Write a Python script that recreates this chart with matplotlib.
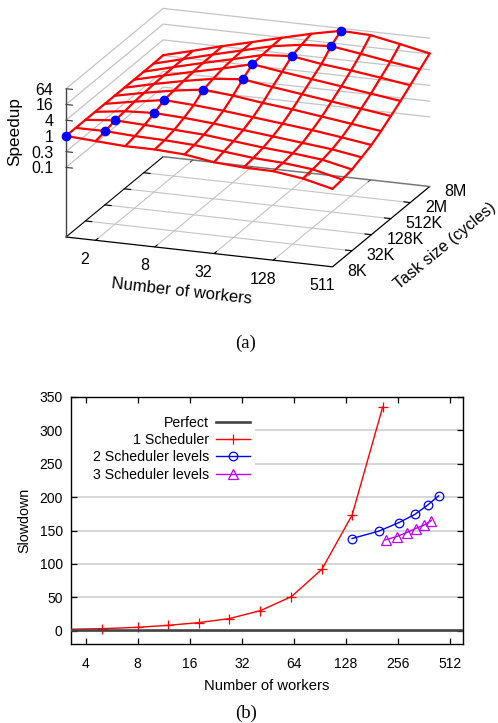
import numpy as np
import matplotlib
matplotlib.use('Agg')
import matplotlib.pyplot as plt
from matplotlib.patches import Rectangle
from mpl_toolkits.mplot3d import proj3d

plt.rcParams['font.family'] = ['Liberation Sans', 'DejaVu Sans']

W, H = 498, 723

# (a) surface: log2 of speedup, one row per task size, one column per worker count
workers_log2 = [0, 1, 2, 3, 4, 5, 6, 7, 8, 9]
tasks_log2 = [13, 14, 15, 16, 17, 18, 19, 20, 21, 22, 23]
speedup_log2 = [
    [0.00, -0.24, -0.46, -0.46, -0.67, -1.24, -1.49, -1.54, -2.05, -2.94],
    [0.00, 0.01, -0.20, -0.30, -0.50, -0.90, -1.30, -1.50, -1.90, -2.78],
    [0.00, 0.36, 0.20, 0.00, -0.20, -0.60, -1.00, -1.30, -1.70, -2.52],
    [0.00, 0.50, 0.69, 0.50, 0.20, -0.20, -0.60, -1.00, -1.40, -2.00],
    [0.00, 0.70, 1.32, 1.10, 0.80, 0.40, 0.00, -0.40, -0.90, -1.45],
    [0.00, 0.80, 1.50, 2.05, 1.70, 1.20, 0.80, 0.30, -0.20, -0.70],
    [0.00, 0.90, 1.70, 2.40, 2.76, 2.20, 1.70, 1.20, 0.70, 0.19],
    [0.00, 0.95, 1.85, 2.70, 3.66, 3.10, 2.60, 2.10, 1.60, 1.08],
    [0.00, 1.00, 1.95, 2.85, 3.80, 4.08, 3.50, 3.10, 2.60, 2.06],
    [0.00, 1.00, 2.00, 2.95, 3.90, 4.50, 4.75, 4.20, 3.60, 3.07],
    [0.06, 1.03, 2.05, 2.98, 3.95, 4.88, 5.68, 5.55, 4.83, 4.06],
]
x_ticks_a = [1, 3, 5, 7, 9]
x_labels_a = ['2', '8', '32', '128', '511']
y_ticks_a = [13, 15, 17, 19, 21, 23]
y_labels_a = ['8K', '32K', '128K', '512K', '2M', '8M']
z_ticks_a = [6, 4, 2, 0, -2, -4]
z_labels_a = ['64', '16', '4', '1', '0.3', '0.1']

# (b) slowdown curves
perfect_x = [3.29, 609]
perfect_y = [1, 1]
sched1_x = [3, 5, 8, 12, 18, 27, 41, 62, 93, 139, 209]
sched1_y = [2, 3, 5, 8, 12, 18, 30, 51, 92, 173, 335]
sched2_x = [139, 198, 260, 320, 380, 440]
sched2_y = [138, 149, 162, 174, 188, 202]
sched3_x = [217, 252, 288, 324, 362, 399]
sched3_y = [136, 141, 147, 153, 158, 165]
x_ticks_b = [4, 8, 16, 32, 64, 128, 256, 512]
y_ticks_b = [0, 50, 100, 150, 200, 250, 300, 350]

fig = plt.figure(figsize=(W / 100, H / 100), dpi=100)


def fx(x):
    return x / W


def fy(y):
    return 1 - y / H


ax3 = fig.add_axes([0.0, 1 - W / H, 1.0, W / H], projection='3d', proj_type='ortho')
ax3.computed_zorder = False
ax3.set_axis_off()
ax3.patch.set_visible(False)
ax3.view_init(elev=17.7, azim=-69.8)
xmin, xmax = 0, 9
ymin, ymax = 13, 23
zmin, zmax = -12.85, 6
ax3.set_xlim(xmin, xmax, view_margin=0)
ax3.set_ylim(ymin, ymax, view_margin=0)
ax3.set_zlim(zmin, zmax, view_margin=0)
aspect = (283.5, 281, 155.4)


def to_px(x, y, z):
    px, py, _ = proj3d.proj_transform(x, y, z, ax3.get_proj())
    dx, dy = ax3.transData.transform((px, py))
    return dx, H - dy


# fit the box so its corners land where the reference has them
zoom = 1.0
ax3.set_box_aspect(aspect, zoom=zoom)
for i in range(3):
    fig.canvas.draw()
    a = to_px(xmin, ymin, zmin)
    b = to_px(xmax, ymin, zmin)
    zoom *= (332.5 - 66.0) / (b[0] - a[0])
    ax3.set_box_aspect(aspect, zoom=zoom)
fig.canvas.draw()
a = to_px(xmin, ymin, zmin)
pos = ax3.get_position()
ax3.set_position([pos.x0 + (66.0 - a[0]) / W, pos.y0 - (237.0 - a[1]) / H, pos.width, pos.height])
fig.canvas.draw()


def line3(xs, ys, zs, color, lw, z=1):
    ax3.plot(xs, ys, zs, color=color, lw=lw, zorder=z, clip_on=False, solid_capstyle='round')


grid_c = '#c4c4c4'
# base grid
for t in x_ticks_a[:-1]:
    line3([t, t], [ymin, ymax], [zmin, zmin], grid_c, 0.8)
for t in y_ticks_a[1:-1]:
    line3([xmin, xmax], [t, t], [zmin, zmin], grid_c, 0.8)
# back walls
for t in z_ticks_a:
    line3([xmin, xmin, xmax], [ymin, ymax, ymax], [t, t, t], grid_c, 0.9)
# box edges
line3([xmin, xmax, xmax], [ymin, ymin, ymax], [zmin, zmin, zmin], 'black', 0.9, 2)
line3([xmin, xmin], [ymin, ymax], [zmin, zmin], 'black', 0.8, 2)
line3([xmin, xmax], [ymax, ymax], [zmin, zmin], '#777777', 1.1, 2)
line3([xmin, xmin], [ymin, ymin], [zmin, zmax], '#444444', 1.0, 2)
# ticks
tick_x = 0.22
for t in x_ticks_a[:-1]:
    line3([t, t], [ymin, ymin + 0.25], [zmin, zmin], 'black', 0.8, 2)
    line3([t, t], [ymax, ymax - 0.25], [zmin, zmin], '#555555', 0.8, 2)
for t in y_ticks_a[1:-1]:
    line3([xmin, xmin + tick_x], [t, t], [zmin, zmin], 'black', 0.8, 2)
    line3([xmax, xmax - tick_x], [t, t], [zmin, zmin], 'black', 0.8, 2)
for t in z_ticks_a:
    line3([xmin, xmin + tick_x], [ymin, ymin], [t, t], '#444444', 0.9, 2)

# surface
zz = np.array(speedup_log2)
for i, t in enumerate(tasks_log2):
    line3(workers_log2, [t] * len(workers_log2), zz[i, :], '#ff0000', 1.6, 3)
for j, w in enumerate(workers_log2):
    line3([w] * len(tasks_log2), tasks_log2, zz[:, j], '#ff0000', 1.6, 3)

# best worker count for every task size
best = np.argmax(zz, axis=1)
ax3.plot([workers_log2[b] for b in best], tasks_log2, zz[np.arange(len(tasks_log2)), best],
         ls='none', marker='o', ms=6, color='#0000ff', mec='#0000ff', zorder=4, clip_on=False)

fs_a = 11.5
for t, s in zip(x_ticks_a, x_labels_a):
    px, py = to_px(t, ymin, zmin)
    fig.text(fx(px - 10.5), fy(py + 19), s, ha='center', va='center', fontsize=fs_a)
for t, s in zip(y_ticks_a, y_labels_a):
    px, py = to_px(xmax, t, zmin)
    fig.text(fx(px + 15), fy(py + 5), s, ha='left', va='center', fontsize=fs_a)
for t, s in zip(z_ticks_a, z_labels_a):
    px, py = to_px(xmin, ymin, t)
    fig.text(fx(px - 12.5), fy(py + 1.5), s, ha='right', va='center', fontsize=fs_a)
fig.text(fx(182), fy(291), 'Number of workers', ha='center', va='center', rotation=-6.4,
         rotation_mode='anchor', fontsize=12)
fig.text(fx(445), fy(246), 'Task size (cycles)', ha='center', va='center', rotation=39.5,
         rotation_mode='anchor', fontsize=11.6)
fig.text(fx(15), fy(132), 'Speedup', ha='center', va='center', rotation=90, fontsize=12.3)
fig.text(fx(246), fy(343), '(a)', ha='center', va='center', family='Liberation Serif', fontsize=13.5)

# (b)
ax = fig.add_axes([fx(71), fy(644), 392 / W, 247 / H])
ax.set_xscale('log', base=2)
ax.set_xlim(3.29, 609)
ax.set_ylim(-20, 350)
ax.grid(True, axis='y', color='#cfcfcf', lw=1.2)
ax.set_axisbelow(True)
ax.add_patch(Rectangle((0, 0.656), 0.469, 0.283, transform=ax.transAxes, fc='white', ec='none', zorder=1))
ax.plot(perfect_x, perfect_y, color='#444444', lw=1.9, label='Perfect', zorder=4)
ax.plot(sched1_x, sched1_y, color='#ff0000', lw=1.0, marker='+', ms=6.5, mew=0.9, label='1 Scheduler', zorder=3)
ax.plot(sched2_x, sched2_y, color='#0000ff', lw=1.0, marker='o', ms=6.2, mfc='none', mew=0.9,
        label='2 Scheduler levels', zorder=3)
ax.plot(sched3_x, sched3_y, color='#bf00ff', lw=1.0, marker='^', ms=6.5, mfc='none', mew=0.9,
        label='3 Scheduler levels', zorder=3)
ax.set_xticks(x_ticks_b)
ax.set_xticklabels([str(v) for v in x_ticks_b], fontsize=10)
ax.minorticks_off()
ax.set_yticks(y_ticks_b)
ax.set_yticklabels([str(v) for v in y_ticks_b], fontsize=10)
ax.tick_params(which='major', direction='in', top=True, right=True, length=4, width=0.9, pad=9)
ax.tick_params(axis='y', pad=6)
for s in ax.spines.values():
    s.set_linewidth(1.0)
ax.set_xlabel('Number of workers', fontsize=10.6, labelpad=6)
ax.set_ylabel('Slowdown', fontsize=10.3, labelpad=6)
ax.legend(loc='upper right', bbox_to_anchor=((250 - 71) / 392, 0.925), markerfirst=False, frameon=False,
          fontsize=10.2, labelspacing=0.24, handlelength=2.4, handletextpad=0.5, borderaxespad=0, borderpad=0)
fig.text(fx(246), fy(713), '(b)', ha='center', va='center', family='Liberation Serif', fontsize=13.5)

fig.savefig('out.png', dpi=100)
